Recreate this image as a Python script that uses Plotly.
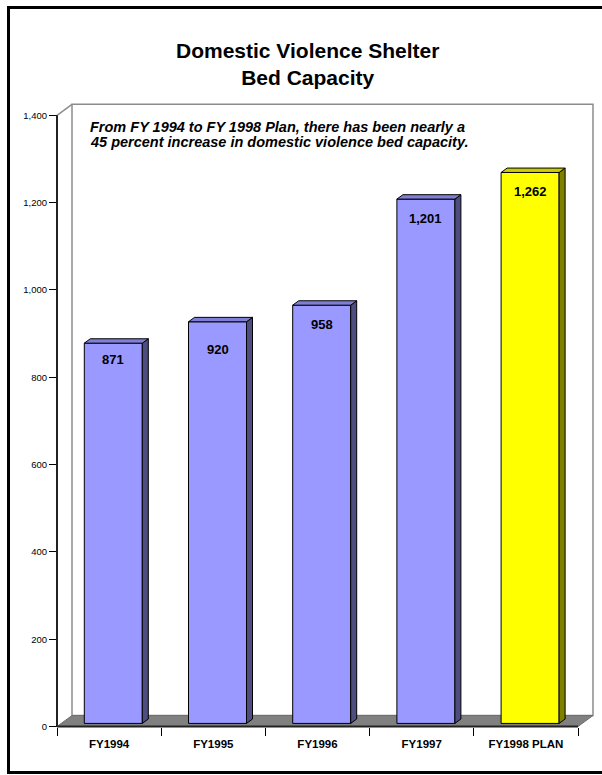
import plotly.graph_objects as go

# ---- data -------------------------------------------------------------
categories = ["FY1994", "FY1995", "FY1996", "FY1997", "FY1998 PLAN"]
beds = [871, 920, 958, 1201, 1262]
y_ticks = [0, 200, 400, 600, 800, 1000, 1200, 1400]

title_lines = ["Domestic Violence Shelter", "Bed Capacity"]
note_lines = [
    "From FY 1994 to FY 1998 Plan, there has been nearly a",
    "45 percent increase in domestic violence bed capacity.",
]

# ---- styling ----------------------------------------------------------
front_colors = ["#9999FF"] * 4 + ["#FFFF00"]
top_colors = ["#7F7FD5"] * 4 + ["#CCCC00"]
side_colors = ["#4D4D80"] * 4 + ["#808000"]
label_drop_px = [16, 28, 19, 19, 19]   # value label distance below bar top

FONT = "Arial, Liberation Sans, sans-serif"
W, H = 602, 775

# pixel geometry of the pseudo-3D frame
X0_PX = 57.0          # left edge of the category band
CAT_PX = 104.2        # width of one category
Y0_PX = 726.5         # zero line
UNIT_PX = 611.2 / 1400.0


def xd(px):
    return -0.5 + (px - X0_PX) / CAT_PX


def yd(py):
    return (Y0_PX - py) / UNIT_PX


x_range = [xd(0), xd(W)]
y_range = [yd(H), yd(0)]

DEPTH_X = 15 / CAT_PX      # depth of the floor/wall
DEPTH_Y = 11 / UNIT_PX
BAR_W = 58 / CAT_PX
FRONT, BACK = 0.28, 0.68   # bar front/back as fraction of depth

n = len(categories)
pos = list(range(n))
x_lo, x_hi = -0.5, n - 0.5
y_top = y_ticks[-1]

fx, fy = FRONT * DEPTH_X, FRONT * DEPTH_Y
bx, by = BACK * DEPTH_X, BACK * DEPTH_Y
sdx, sdy = bx - fx, by - fy

fig = go.Figure()

# front faces
fig.add_trace(go.Bar(
    x=[p + fx for p in pos],
    y=beds,
    base=fy,
    width=BAR_W,
    marker=dict(color=front_colors, line=dict(color="#000000", width=1)),
    hoverinfo="skip",
    showlegend=False,
))

# side and top faces
for p, v, sc, tc in zip(pos, beds, side_colors, top_colors):
    xl = p + fx - BAR_W / 2
    xr = p + fx + BAR_W / 2
    yb, yt = fy, fy + v
    fig.add_trace(go.Scatter(
        x=[xr, xr + sdx, xr + sdx, xr, xr],
        y=[yb, yb + sdy, yt + sdy, yt, yb],
        mode="lines", fill="toself", fillcolor=sc,
        line=dict(color="#000000", width=1),
        hoverinfo="skip", showlegend=False,
    ))
    fig.add_trace(go.Scatter(
        x=[xl, xr, xr + sdx, xl + sdx, xl],
        y=[yt, yt, yt + sdy, yt + sdy, yt],
        mode="lines", fill="toself", fillcolor=tc,
        line=dict(color="#000000", width=1),
        hoverinfo="skip", showlegend=False,
    ))

shapes = []
# back wall
shapes.append(dict(type="rect", xref="x", yref="y", layer="below",
                   x0=x_lo + DEPTH_X, x1=x_hi + DEPTH_X, y0=DEPTH_Y, y1=y_top + DEPTH_Y,
                   fillcolor="#FFFFFF", line=dict(color="#8C8C8C", width=1.5)))
# wall top-left bevel
shapes.append(dict(type="line", xref="x", yref="y", layer="below",
                   x0=x_lo, y0=y_top, x1=x_lo + DEPTH_X, y1=y_top + DEPTH_Y,
                   line=dict(color="#8C8C8C", width=1.5)))
# floor
shapes.append(dict(type="path", xref="x", yref="y", layer="below",
                   path=f"M {x_lo},0 L {x_hi},0 L {x_hi + DEPTH_X},{DEPTH_Y} "
                        f"L {x_lo + DEPTH_X},{DEPTH_Y} Z",
                   fillcolor="#808080", line=dict(color="#6E6E6E", width=1)))
# axis lines
shapes.append(dict(type="line", xref="x", yref="y",
                   x0=x_lo, y0=0, x1=x_lo, y1=y_top,
                   line=dict(color="#222222", width=2)))
shapes.append(dict(type="line", xref="x", yref="y",
                   x0=x_lo, y0=0, x1=x_hi, y1=0,
                   line=dict(color="#222222", width=2)))
# page frame: top, left and bottom rules
fr_l, fr_t, fr_b = 8.5 / W, 1 - 7.5 / H, 1 - 772.5 / H
for x0, y0, x1, y1 in [(fr_l, fr_t, 1.0, fr_t),
                       (fr_l, fr_t + 1.5 / H, fr_l, fr_b - 1.5 / H),
                       (fr_l, fr_b, 1.0, fr_b)]:
    shapes.append(dict(type="line", xref="paper", yref="paper",
                       x0=x0, y0=y0, x1=x1, y1=y1,
                       line=dict(color="#000000", width=3)))

annotations = []
# title
annotations.append(dict(xref="paper", yref="paper", x=307.5 / W, y=1 - 64.2 / H,
                        text="<b>" + "<br>".join(title_lines) + "</b>",
                        showarrow=False, xanchor="center", yanchor="middle",
                        font=dict(family=FONT, size=21, color="#000000")))
# note
for line, cy in zip(note_lines, [127.0, 142.0]):
    annotations.append(dict(xref="paper", yref="paper", x=88 / W, y=1 - cy / H,
                            text="<b><i>" + line + "</i></b>",
                            showarrow=False, xanchor="left", yanchor="middle",
                            font=dict(family=FONT, size=14.5, color="#000000")))
# value labels
for p, v, d in zip(pos, beds, label_drop_px):
    annotations.append(dict(xref="x", yref="y", x=p + fx, y=v + fy,
                            text=f"<b>{v:,}</b>", showarrow=False,
                            xanchor="center", yanchor="middle", yshift=-d,
                            font=dict(family=FONT, size=13, color="#000000")))

fig.update_layout(
    template="none",
    width=W, height=H,
    margin=dict(l=0, r=0, t=0, b=0, pad=0),
    paper_bgcolor="#FFFFFF",
    plot_bgcolor="#FFFFFF",
    showlegend=False,
    shapes=shapes,
    annotations=annotations,
    xaxis=dict(
        range=x_range, domain=[0, 1], anchor="free", position=1 - 727 / H,
        tickmode="array", tickvals=pos, ticktext=[f"<b>{c}</b>" for c in categories],
        ticks="", showline=False, showgrid=False, zeroline=False,
        ticklabelstandoff=8,
        tickfont=dict(family=FONT, size=11.5, color="#000000"),
        minor=dict(tickmode="array", tickvals=[x_lo + i for i in range(n + 1)],
                   ticks="outside", ticklen=8, tickwidth=1, tickcolor="#000000",
                   showgrid=False),
        fixedrange=True,
    ),
    yaxis=dict(
        range=y_range, domain=[0, 1], anchor="free", position=X0_PX / W,
        tickmode="array", tickvals=y_ticks, tickformat=",d",
        ticks="outside", ticklen=8, tickwidth=1, tickcolor="#000000",
        showline=False, showgrid=False, zeroline=False,
        tickfont=dict(family=FONT, size=9.5, color="#000000"),
        fixedrange=True,
    ),
)

fig.write_html("out.html")
